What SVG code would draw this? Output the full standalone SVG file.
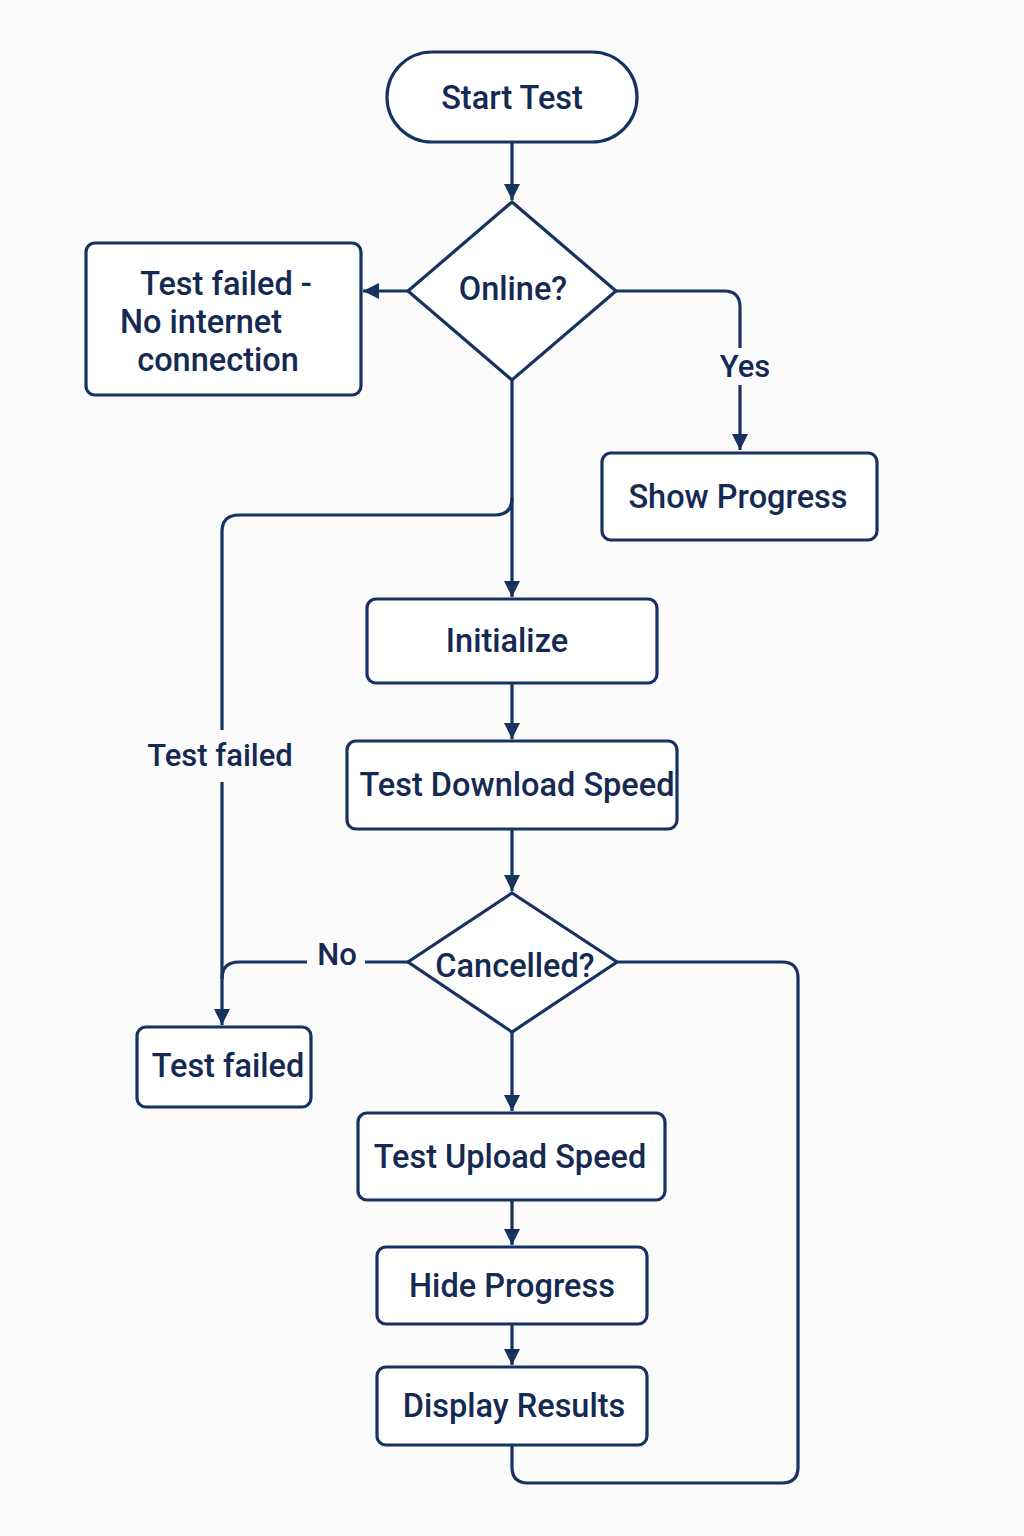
<svg xmlns="http://www.w3.org/2000/svg" width="1024" height="1536" viewBox="0 0 1024 1536">
<style>
.n{fill:#ffffff;stroke:#173260;stroke-width:3.2}
.t{font-family:Roboto,"Open Sans",sans-serif;font-size:32.5px;font-weight:500;fill:#152a52;text-anchor:middle;dominant-baseline:central}
.l{font-family:Roboto,"Open Sans",sans-serif;font-size:31px;font-weight:500;fill:#152a52;text-anchor:middle;dominant-baseline:central}
.c{fill:none;stroke:#173260;stroke-width:3.2}
</style>
<defs>
<marker id="a" viewBox="0 0 10 10" refX="10" refY="5" markerWidth="5" markerHeight="5" markerUnits="strokeWidth" orient="auto">
<path d="M0,0L10,5L0,10z" fill="#173260"/>
</marker>
</defs>
<rect width="1024" height="1536" fill="#fbfbfb"/>
<g id="connectors">
<path class="c" d="M512,142V200" marker-end="url(#a)"/>
<path class="c" d="M408,291H363" marker-end="url(#a)"/>
<path class="c" d="M616,291H724Q740,291 740,307V348M740,385V450" marker-end="url(#a)"/>
<path class="c" d="M512,380V597" marker-end="url(#a)"/>
<path class="c" d="M512,498Q512,515 495,515H239Q222,515 222,532V730M222,782V1025" marker-end="url(#a)"/>
<path class="c" d="M512,683V739" marker-end="url(#a)"/>
<path class="c" d="M512,829V891" marker-end="url(#a)"/>
<path class="c" d="M408,962H365M307,962H239Q222,962 222,979"/>
<path class="c" d="M617,962H782Q798,962 798,978V1467Q798,1483 782,1483H528Q512,1483 512,1467V1445"/>
<path class="c" d="M512,1032V1111" marker-end="url(#a)"/>
<path class="c" d="M512,1200V1245" marker-end="url(#a)"/>
<path class="c" d="M512,1324V1365" marker-end="url(#a)"/>
<text class="l" x="745" y="366">Yes</text>
<text class="l" x="220" y="755">Test failed</text>
<text class="l" x="337" y="954">No</text>
</g>
<g id="start">
<rect class="n" x="387" y="52" width="250" height="90" rx="45"/>
<text class="t" x="512" y="98">Start Test</text>
</g>
<g id="online">
<polygon class="n" points="512,202 616,291 512,380 408,291"/>
<text class="t" x="513" y="289">Online?</text>
</g>
<g id="nointernet">
<rect class="n" x="86" y="243" width="275" height="152" rx="9"/>
<text class="t" x="226" y="284">Test failed -</text>
<text class="t" x="201" y="322">No internet</text>
<text class="t" x="218" y="360">connection</text>
</g>
<g id="showprogress">
<rect class="n" x="602" y="453" width="275" height="87" rx="9"/>
<text class="t" x="738" y="497">Show Progress</text>
</g>
<g id="initialize">
<rect class="n" x="367" y="599" width="290" height="84" rx="9"/>
<text class="t" x="507" y="641">Initialize</text>
</g>
<g id="download">
<rect class="n" x="347" y="741" width="330" height="88" rx="9"/>
<text class="t" x="517" y="785">Test Download Speed</text>
</g>
<g id="cancelled">
<polygon class="n" points="512,893 617,962 512,1032 408,962"/>
<text class="t" x="515" y="966">Cancelled?</text>
</g>
<g id="testfailed">
<rect class="n" x="137" y="1027" width="174" height="80" rx="9"/>
<text class="t" x="228" y="1066">Test failed</text>
</g>
<g id="upload">
<rect class="n" x="358" y="1113" width="307" height="87" rx="9"/>
<text class="t" x="510" y="1157">Test Upload Speed</text>
</g>
<g id="hide">
<rect class="n" x="377" y="1247" width="270" height="77" rx="9"/>
<text class="t" x="512" y="1286">Hide Progress</text>
</g>
<g id="display">
<rect class="n" x="377" y="1367" width="270" height="78" rx="9"/>
<text class="t" x="514" y="1406">Display Results</text>
</g>
</svg>
